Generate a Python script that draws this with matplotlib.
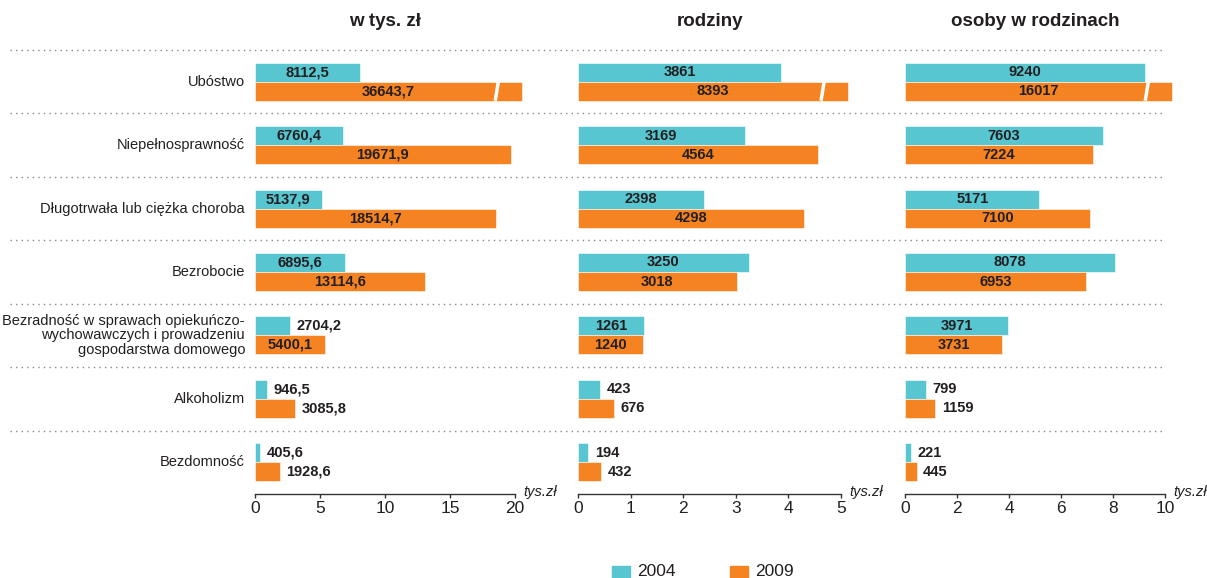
import matplotlib.pyplot as plt
from matplotlib.lines import Line2D

plt.rcParams['font.family'] = ['Liberation Sans', 'DejaVu Sans']

categories = ['Ubóstwo', 'Niepełnosprawność', 'Długotrwała lub ciężka choroba', 'Bezrobocie',
              'Bezradność w sprawach opiekuńczo-\nwychowawczych i prowadzeniu\ngospodarstwa domowego',
              'Alkoholizm', 'Bezdomność']

# values as printed on the chart
kwota_2004 = [8112.5, 6760.4, 5137.9, 6895.6, 2704.2, 946.5, 405.6]
kwota_2009 = [36643.7, 19671.9, 18514.7, 13114.6, 5400.1, 3085.8, 1928.6]
rodziny_2004 = [3861, 3169, 2398, 3250, 1261, 423, 194]
rodziny_2009 = [8393, 4564, 4298, 3018, 1240, 676, 432]
osoby_2004 = [9240, 7603, 5171, 8078, 3971, 799, 221]
osoby_2009 = [16017, 7224, 7100, 6953, 3731, 1159, 445]

titles = ['w tys. zł', 'rodziny', 'osoby w rodzinach']
xmaxes = [20, 5, 10]
xticks = [[0, 5, 10, 15, 20], [0, 1, 2, 3, 4, 5], [0, 2, 4, 6, 8, 10]]
decimals = [1, 0, 0]
years = ['2004', '2009']

TEAL = '#57c6d0'
ORANGE = '#f58322'
TXT = '#231f20'

W, H = 1207, 578
fig = plt.figure(figsize=(W / 100, H / 100), dpi=100)

panels = [(kwota_2004, kwota_2009), (rodziny_2004, rodziny_2009), (osoby_2004, osoby_2009)]
lefts = [255, 578, 905]
widths = [260, 263, 260]
top_px, bot_px = 50, 494
n = len(categories)
bh = 0.3


def fmt(v, d):
    s = f'{v:.{d}f}'
    return s.replace('.', ',')


axes = []
for p, (s04, s09) in enumerate(panels):
    ax = fig.add_axes([lefts[p] / W, 1 - bot_px / H, widths[p] / W, (bot_px - top_px) / H])
    axes.append(ax)
    xmax = xmaxes[p]
    cap = xmax * 1.025
    for i in range(n):
        for k, (vals, col, off) in enumerate([(s04, TEAL, 0.35), (s09, ORANGE, 0.65)]):
            v = vals[i] / 1000
            shown = min(v, cap)
            y = i + off
            ax.barh(y, shown, height=bh, left=0, color=col, edgecolor='white', linewidth=0.4,
                    clip_on=False)
            if v > cap:
                bx = xmax * 0.93
                dx = xmax * 0.006
                ax.plot([bx - dx, bx + dx], [y + bh / 2, y - bh / 2], color='white', lw=2.5,
                        solid_capstyle='butt', clip_on=False)
            label = fmt(vals[i], decimals[p])
            if shown > 0.2 * xmax:
                ax.text(shown / 2, y, label, ha='center', va='center', fontsize=10.5,
                        fontweight='bold', color=TXT)
            else:
                ax.text(shown + xmax * 0.025, y, label, ha='left', va='center', fontsize=10.5,
                        fontweight='bold', color=TXT)
    ax.set_xlim(0, xmax)
    ax.set_ylim(n, 0)
    ax.set_xticks(xticks[p])
    ax.set_xticklabels([str(t) for t in xticks[p]])
    ax.tick_params(axis='x', length=3, width=1, colors='#333333', labelsize=12.5,
                   labelcolor=TXT, pad=2)
    ax.set_yticks([])
    for sp in ['top', 'right', 'left']:
        ax.spines[sp].set_visible(False)
    ax.spines['bottom'].set_color('#333333')
    ax.spines['bottom'].set_linewidth(1)
    ax.patch.set_alpha(0)
    ax.text(1 + 8 / widths[p], 0.004, 'tys.zł', transform=ax.transAxes, ha='left', va='center',
            fontsize=10.5, fontstyle='italic', color=TXT)
    fig.text((lefts[p] + widths[p] / 2) / W, 1 - 22 / H, titles[p], ha='center', va='center',
             fontsize=13.5, fontweight='bold', color=TXT)

# category labels
ax0 = axes[0]
for i, c in enumerate(categories):
    ax0.text(-10 / widths[0] * xmaxes[0], i + 0.5, c, ha='right', va='center',
             fontsize=10.5, color=TXT, linespacing=1.05)

# dotted separators across the whole figure
row_h = (bot_px - top_px) / n
for k in range(n):
    yf = 1 - (top_px + k * row_h) / H
    fig.add_artist(Line2D([10 / W, 1165 / W], [yf, yf], transform=fig.transFigure,
                          color='#888888', lw=1, linestyle=(0, (1, 3))))

# legend
for lx, col, yr in [(612, TEAL, years[0]), (730, ORANGE, years[1])]:
    fig.patches.append(plt.Rectangle((lx / W, 1 - 579 / H), 18 / W, 13 / H,
                                     transform=fig.transFigure, color=col))
    fig.text((lx + 25) / W, 1 - 572 / H, yr, ha='left', va='center', fontsize=12.5, color=TXT)

fig.savefig('out.png', dpi=100)
plt.close(fig)
